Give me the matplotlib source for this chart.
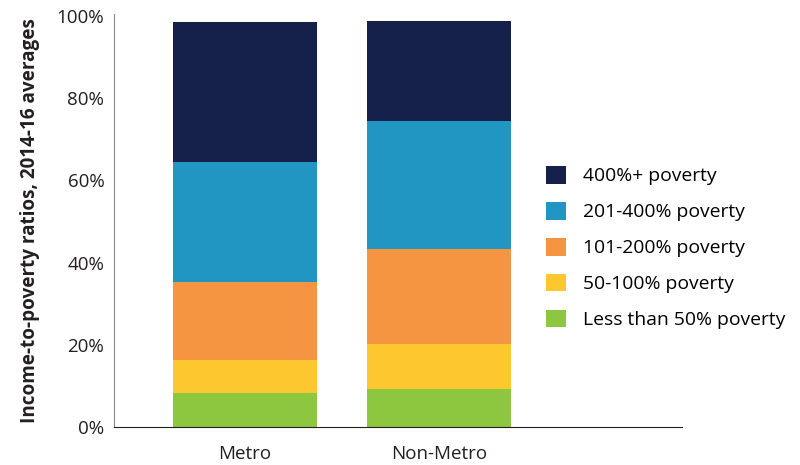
import matplotlib
matplotlib.use('Agg')
import matplotlib.pyplot as plt
import numpy as np

plt.rcParams['font.family'] = ['Open Sans', 'DejaVu Sans']

# areas and income-to-poverty groups (shares in percent, 2014-16 averages)
areas = ['Metro', 'Non-Metro']
groups = ['Less than 50% poverty', '50-100% poverty', '101-200% poverty',
          '201-400% poverty', '400%+ poverty']
less50 = [8.3, 9.2]
p50_100 = [8.0, 11.0]
p101_200 = [19.1, 23.1]
p201_400 = [29.1, 31.2]
p400 = [34.0, 24.3]
yticks = [0, 20, 40, 60, 80, 100]

colors = ['#8dc63f', '#fdc72f', '#f59441', '#2196c2', '#15214a']

fig = plt.figure(figsize=(8, 4.65), dpi=100)
ax = fig.add_axes([0.1425, 0.0817, 0.71, 0.888])

x = np.arange(len(areas))
bottom = np.zeros(len(areas))
for vals, name, c in zip([less50, p50_100, p101_200, p201_400, p400], groups, colors):
    ax.bar(x, vals, width=0.742, bottom=bottom, color=c, label=name)
    bottom += np.array(vals)

ax.set_xlim(-0.675, 2.25)
ax.set_ylim(0, 100.5)
ax.set_yticks(yticks)
ax.set_yticklabels([f'{t}%' for t in yticks], fontsize=13.5, color='#231f20')
ax.set_xticks(x)
ax.set_xticklabels(areas, fontsize=13.5, color='#231f20')
ax.tick_params(axis='both', length=0)
ax.tick_params(axis='y', pad=7)
ax.tick_params(axis='x', pad=13)
ax.spines['top'].set_visible(False)
ax.spines['right'].set_visible(False)
ax.spines['left'].set_color('#888888')
ax.spines['bottom'].set_color('#231f20')
ax.set_ylabel('Income-to-poverty ratios, 2014-16 averages', fontsize=13.6,
              fontweight='bold', color='#231f20', labelpad=8)
ax.yaxis.set_label_coords(-0.13, 0.5)

h, l = ax.get_legend_handles_labels()
fig.legend(h[::-1], l[::-1], loc='upper left', bbox_to_anchor=(0.6825, 0.643),
           frameon=False, fontsize=13.9, handlelength=1.03, handleheight=1.03,
           labelspacing=0.855, handletextpad=0.88, borderpad=0, borderaxespad=0)

plt.savefig('out.png', dpi=100)
